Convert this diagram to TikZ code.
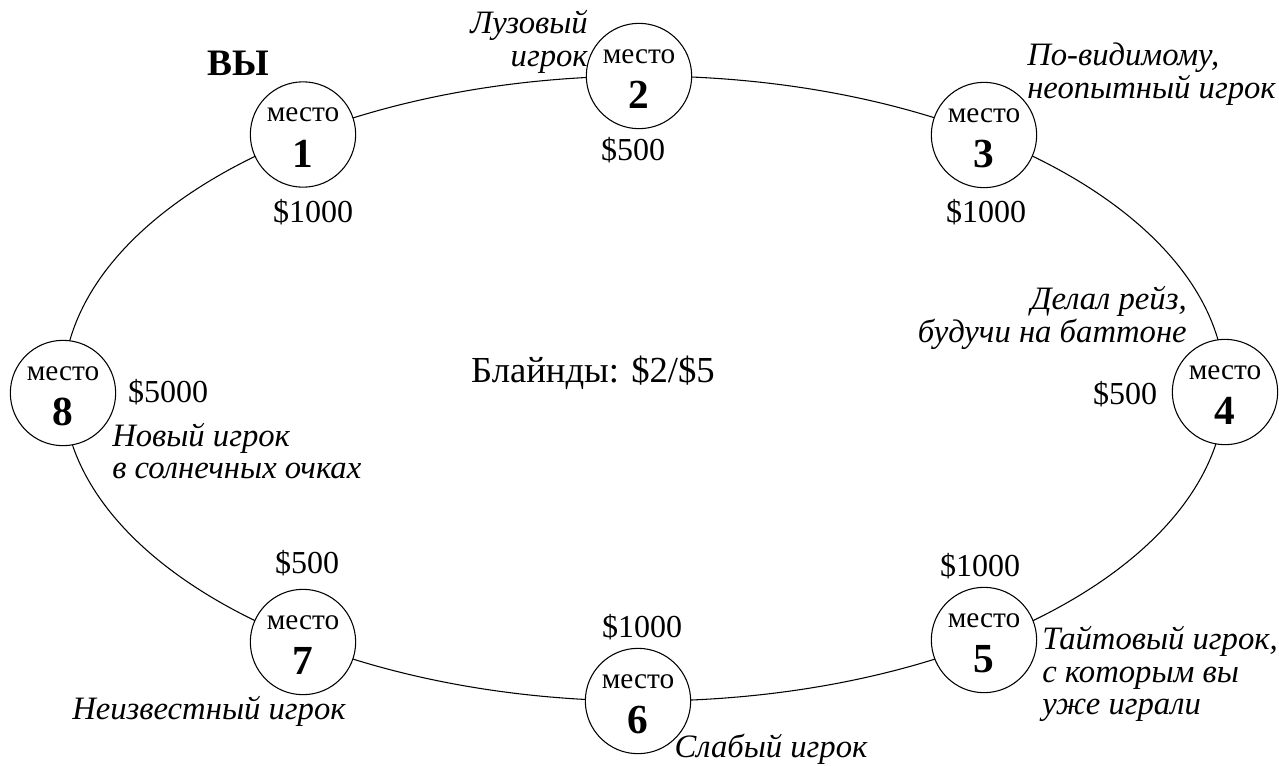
\documentclass[tikz,border=0pt]{standalone}
\usepackage{fontspec}
\setmainfont{Liberation Serif}
\tikzset{
  seat/.style={draw, circle, fill=white, line width=0.8pt, minimum size=79pt, inner sep=0pt},
  seatword/.style={inner sep=0pt, font=\fontsize{22}{24}\selectfont},
  seatnum/.style={inner sep=0pt, font=\fontsize{31}{33}\selectfont\bfseries},
  money/.style={inner sep=0pt, anchor=base, font=\fontsize{24}{26}\selectfont},
  note/.style={inner sep=0pt, font=\fontsize{24.5}{24.5}\selectfont\itshape},
  you/.style={inner sep=0pt, anchor=base, font=\fontsize{28}{30}\selectfont\bfseries},
  blinds/.style={inner sep=0pt, anchor=base, font=\fontsize{27.5}{30}\selectfont},
  table/.style={line width=0.8pt}
}
\begin{document}
\begin{tikzpicture}[x=0.75pt, y=-0.75pt]
\useasboundingbox (0,0) rectangle (1279,765);
\draw[table] (644,388.5) ellipse [x radius=435.75pt, y radius=234.4pt];
% seats
\node[seat] (s1) at (303,134.5) {};
\node[seat] (s2) at (639,76) {};
\node[seat] (s3) at (984,135) {};
\node[seat] (s4) at (1225,392) {};
\node[seat] (s5) at (984,640) {};
\node[seat] (s6) at (638,701) {};
\node[seat] (s7) at (303,642) {};
\node[seat] (s8) at (63,393) {};
\foreach \i in {1,...,8}{
  \node[seatword] (w\i) at ([yshift=14.6pt]s\i.center) {место};
  \node[seatnum] (n\i) at ([yshift=-14.3pt]s\i.center) {\i};
}
% stacks
\node[money] (m1) at (313,222) {\$1000};
\node[money] (m2) at (633,160) {\$500};
\node[money] (m3) at (986,222) {\$1000};
\node[money] (m4) at (1125,404) {\$500};
\node[money] (m5) at (980,576) {\$1000};
\node[money] (m6) at (642,637) {\$1000};
\node[money] (m7) at (307,573) {\$500};
\node[money] (m8) at (168,402) {\$5000};
% notes
\node[you] (you) at (238,75) {ВЫ};
\node[note, align=right, anchor=east] (t2) at (588,42) {Лузовый\\игрок};
\node[note, align=left, anchor=west] (t3) at (1027,74) {По-видимому,\\неопытный игрок};
\node[note, align=right, anchor=east] (t4) at (1187,318) {Делал рейз,\\будучи на баттоне};
\node[note, align=left, anchor=west] (t5) at (1042,674) {Тайтовый игрок,\\с которым вы\\уже играли};
\node[note, anchor=base] (t6) at (771,757) {Слабый игрок};
\node[note, anchor=base] (t7) at (209,719) {Неизвестный игрок};
\node[note, align=left, anchor=west] (t8) at (112,451) {Новый игрок\\в солнечных очках};
\node[blinds] (bl) at (593,382) {Блайнды: \$2/\$5};
\end{tikzpicture}
\end{document}
